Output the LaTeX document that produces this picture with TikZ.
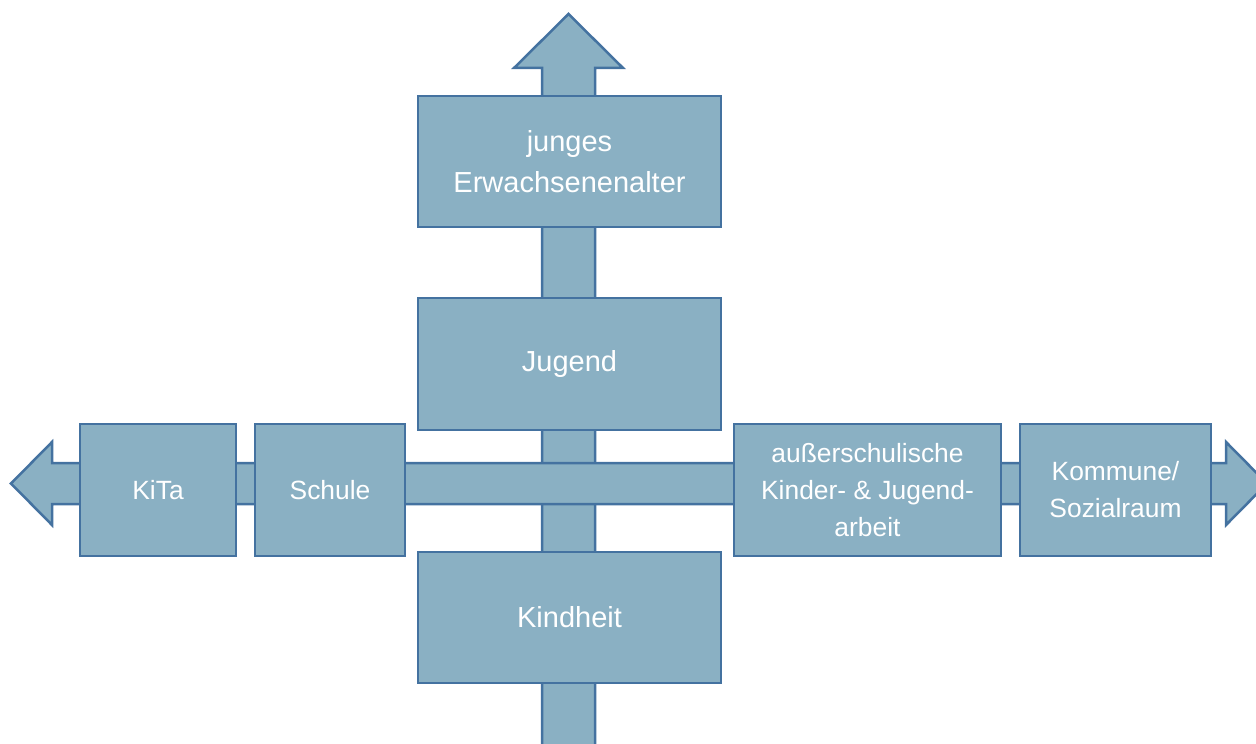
\documentclass[tikz,border=0pt]{standalone}
\usepackage{fontspec}
\setmainfont{Liberation Sans}
\definecolor{boxfill}{RGB}{138,176,195}
\definecolor{boxline}{RGB}{68,114,160}

\begin{document}
\begin{tikzpicture}[x=0.5pt,y=0.5pt,
        band/.style={draw=boxline, fill=boxfill, line width=1.25pt, line join=miter},
        stage/.style={band, text=white, align=center, inner sep=0pt,
            minimum width=151.5pt, font=\fontsize{14.5}{20.5}\selectfont},
        sector/.style={band, text=white, align=center, inner sep=0pt,
            minimum height=66pt, font=\fontsize{13.2}{18.5}\selectfont}]
    \useasboundingbox (0,0) rectangle (1256,-743);
    % vertical arrow
    \draw [band] (542,-770) -- (542,-68) -- (514,-68) -- (568.5,-14) -- (623,-68) -- (595,-68) -- (595,-770) -- cycle;
    \node (jung) [stage, minimum height=65.5pt] at (569.5,-161.5) {junges\\Erwachsenenalter};
    \node (jugend) [stage, minimum height=66pt] at (569.5,-364) {Jugend};
    \node (kindheit) [stage, minimum height=65.5pt] at (569.5,-617.5) {Kindheit};
    % horizontal arrow
    \draw [band] (11,-483.5) -- (52,-442) -- (52,-463) -- (1226,-463) -- (1226,-442) -- (1267,-483.5)
        -- (1226,-525) -- (1226,-504) -- (52,-504) -- (52,-525) -- cycle;
    \node (kita) [sector, minimum width=78pt] at (158,-490) {KiTa};
    \node (schule) [sector, minimum width=75pt] at (330,-490) {Schule};
    \node (ausser) [sector, minimum width=133.5pt] at (867.5,-490) {außerschulische\\Kinder- \& Jugend-\\arbeit};
    \node (kommune) [sector, minimum width=95.5pt] at (1115.5,-490) {Kommune/\\Sozialraum};
\end{tikzpicture}
\end{document}
